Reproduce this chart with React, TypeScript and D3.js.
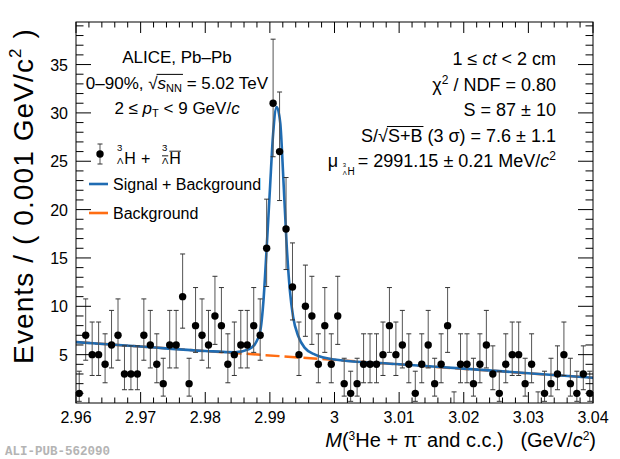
import React, { useLayoutEffect, useRef, useState } from "react";
import * as d3 from "d3";

// invariant-mass histogram, 0.001 GeV/c^2 bins from 2.96 to 3.04
const binLow = 2.96;
const binWidth = 0.001;
const counts = [
  1, 7, 5, 5, 4, 6, 7, 3, 3, 3,
  7, 6, 4, 2, 6, 6, 11, 2, 8, 7,
  6, 9, 8, 4, 5, 6, 6, 8, 7, 16,
  31, 26, 18, 12, 5, 10, 9, 4, 8, 4,
  9, 2, 1, 2, 4, 4, 4, 5, 8, 5,
  6, 4, 1, 4, 6, 2, 4, 8, 0, 4,
  4, 2, 4, 6, 3, 1, 4, 5, 5, 2,
  4, 0, 1, 2, 3, 5, 2, 1, 3, 1,
];

// signal + background fit
const fitMass = [
  2.96, 2.97, 2.98, 2.9846, 2.9867, 2.9877, 2.9885, 2.989, 2.9895, 2.99,
  2.9905, 2.99105, 2.9916, 2.9921, 2.9926, 2.9931, 2.9936, 2.9944, 2.9954,
  2.997, 3.0, 3.01, 3.02, 3.03, 3.04,
];
const fitTotal = [
  6.3, 5.84, 5.38, 5.25, 5.55, 6.1, 7.4, 10.5, 16.0, 22.0,
  27.8, 30.6, 29.0, 23.0, 16.3, 11.6, 8.9, 6.9, 5.7,
  5.0, 4.5, 4.01, 3.55, 3.08, 2.61,
];

// background only
const bkgMass = [2.96, 3.04];
const bkgValue = [6.3, 2.61];

const xTickValues = [2.96, 2.97, 2.98, 2.99, 3.0, 3.01, 3.02, 3.03, 3.04];
const xTickLabels = ["2.96", "2.97", "2.98", "2.99", "3", "3.01", "3.02", "3.03", "3.04"];
const yTickValues = [5, 10, 15, 20, 25, 30, 35];
const yTickLabels = ["5", "10", "15", "20", "25", "30", "35"];

const BLUE = "#1f6cb3";
const ORANGE = "#ff6d12";
const FONT = "'Liberation Sans', Arial, Helvetica, sans-serif";

// 68% Poisson interval (Wilson-Hilferty)
function poisson(n: number): [number, number] {
  if (n === 0) return [0, 1.1478];
  const lo = n * Math.pow(1 - 1 / (9 * n) - 1 / (3 * Math.sqrt(n)), 3);
  const m = n + 1;
  const hi = m * Math.pow(1 - 1 / (9 * m) + 1 / (3 * Math.sqrt(m)), 3);
  return [lo, hi];
}

// hypertriton symbol: 3 on top, Lambda below, then H
const Hyp = ({ x, y, fs, anti }: { x: number; y: number; fs: number; anti?: boolean }) => {
  const s = fs * 0.6;
  const hx = x + fs * 0.46;
  const hw = fs * 0.72;
  return (
    <g>
      <text x={x} y={y - fs * 0.8} fontSize={s}>3</text>
      <text x={x} y={y} fontSize={s}>Λ</text>
      <text x={hx} y={y} fontSize={fs}>H</text>
      {anti && (
        <>
          <line x1={x} x2={x + s * 0.65} y1={y - s * 0.85} y2={y - s * 0.85} stroke="#000" strokeWidth={0.9} />
          <line x1={hx} x2={hx + hw} y1={y - fs * 0.8} y2={y - fs * 0.8} stroke="#000" strokeWidth={0.9} />
        </>
      )}
    </g>
  );
};

export default function App() {
  const M = { left: 76, right: 593, top: 22, bottom: 403 };
  const x = d3.scaleLinear().domain([2.96, 3.04]).range([M.left, M.right]);
  const y = d3.scaleLinear().domain([0, 39.4]).range([M.bottom, M.top]);

  const xMinor = d3.range(0, 41).map((i) => 2.96 + i * 0.002);
  const yMinor = d3.range(1, 40);

  const fitPath = d3
    .line<number>()
    .x((_, i) => x(fitMass[i]))
    .y((d) => y(d))
    .curve(d3.curveMonotoneX)(fitTotal)!;
  const bkgPath = d3
    .line<number>()
    .x((_, i) => x(bkgMass[i]))
    .y((d) => y(d))(bkgValue)!;

  const sqrtA = useRef<SVGTextElement>(null);
  const sqrtB = useRef<SVGTextElement>(null);
  const muRef = useRef<SVGTextElement>(null);
  const [bars, setBars] = useState<{ x1: number; x2: number; y: number }[]>([]);
  const [muStart, setMuStart] = useState(360);

  const rfs = 18; // right-hand text size

  useLayoutEffect(() => {
    const over = (el: SVGTextElement | null, root: number, last: number, base: number, fs: number) => {
      if (!el) return null;
      const r = el.getEndPositionOfChar(root);
      const e = el.getEndPositionOfChar(last);
      return { x1: r.x - 1, x2: e.x + 1, y: base - fs * 0.86 };
    };
    const out = [over(sqrtA.current, 7, 10, 89, 17), over(sqrtB.current, 2, 5, 142, rfs)].filter(Boolean) as any[];
    setBars(out);
    if (muRef.current) setMuStart(muRef.current.getBBox().x);
  }, []);

  return (
    <svg
      width={620}
      height={459}
      style={{ position: "absolute", left: 0, top: 0, background: "#fff" }}
      fontFamily={FONT}
    >
      <defs>
        <clipPath id="plotArea">
          <rect x={M.left} y={M.top} width={M.right - M.left} height={M.bottom - M.top} />
        </clipPath>
      </defs>

      {/* curves */}
      <g clipPath="url(#plotArea)">
        <path d={bkgPath} fill="none" stroke={ORANGE} strokeWidth={2.5} strokeDasharray="14 5" />
        <path d={fitPath} fill="none" stroke={BLUE} strokeWidth={2.6} />
      </g>

      {/* data points */}
      <g clipPath="url(#plotArea)">
        {counts.map((n, i) => {
          const cx = x(binLow + (i + 0.5) * binWidth);
          const [lo, hi] = poisson(n);
          return (
            <g key={i}>
              <line x1={cx} x2={cx} y1={y(lo)} y2={y(hi)} stroke="#555" strokeWidth={1} />
              <line x1={cx - 2.5} x2={cx + 2.5} y1={y(hi)} y2={y(hi)} stroke="#333" strokeWidth={1} />
              {n > 0 && <line x1={cx - 2.5} x2={cx + 2.5} y1={y(lo)} y2={y(lo)} stroke="#333" strokeWidth={1} />}
              {n > 0 && <circle cx={cx} cy={y(n)} r={3.7} fill="#000" />}
            </g>
          );
        })}
      </g>

      {/* frame and ticks */}
      <rect x={M.left} y={M.top} width={M.right - M.left} height={M.bottom - M.top} fill="none" stroke="#000" strokeWidth={1} />
      <g stroke="#000" strokeWidth={1}>
        {xMinor.map((v, i) => {
          const len = i % 5 === 0 ? 11 : 5.5;
          return (
            <g key={"xt" + i}>
              <line x1={x(v)} x2={x(v)} y1={M.bottom} y2={M.bottom - len} />
              <line x1={x(v)} x2={x(v)} y1={M.top} y2={M.top + len} />
            </g>
          );
        })}
        {yMinor.map((v) => {
          const len = v % 5 === 0 ? 15 : 7.5;
          return (
            <g key={"yt" + v}>
              <line x1={M.left} x2={M.left + len} y1={y(v)} y2={y(v)} />
              <line x1={M.right} x2={M.right - len} y1={y(v)} y2={y(v)} />
            </g>
          );
        })}
      </g>
      <g fontSize={16} fill="#000">
        {xTickValues.map((v, i) => (
          <text key={"xl" + i} x={x(v)} y={M.bottom + 20} textAnchor="middle">
            {xTickLabels[i]}
          </text>
        ))}
        {yTickValues.map((v, i) => (
          <text key={"yl" + i} x={M.left - 8} y={y(v) + 6} textAnchor="end">
            {yTickLabels[i]}
          </text>
        ))}
      </g>

      {/* axis titles */}
      <text x={596} y={447} textAnchor="end" fontSize={20} style={{ whiteSpace: "pre" }}>
        <tspan fontStyle="italic">M</tspan>(
        <tspan fontSize={12} baselineShift="60%">3</tspan>He + π
        <tspan fontSize={12} baselineShift="60%">-</tspan> and c.c.)   (GeV/
        <tspan fontStyle="italic">c</tspan>
        <tspan fontSize={12} baselineShift="60%">2</tspan>)
      </text>
      <text
        transform="translate(33,196) rotate(-90)"
        textAnchor="middle"
        fontSize={28}
        letterSpacing={1.1}
        style={{ whiteSpace: "pre" }}
      >
        Events / ( 0.001 GeV/c<tspan fontSize={17} baselineShift="70%">2</tspan> )
      </text>

      {/* left text block */}
      <g fontSize={17} textAnchor="middle">
        <text x={177} y={63}>ALICE, Pb–Pb</text>
        <text ref={sqrtA} x={177} y={89} style={{ whiteSpace: "pre" }}>
          0–90%, √<tspan fontStyle="italic">s</tspan>
          <tspan fontSize={11} baselineShift="-30%">NN</tspan> = 5.02 TeV
        </text>
        <text x={177} y={114} style={{ whiteSpace: "pre" }}>
          2 ≤ <tspan fontStyle="italic">p</tspan>
          <tspan fontSize={11} baselineShift="-30%">T</tspan> {"< 9 GeV/"}
          <tspan fontStyle="italic">c</tspan>
        </text>
      </g>
      {bars.map((b, i) => (
        <line key={"ov" + i} x1={b.x1} x2={b.x2} y1={b.y} y2={b.y} stroke="#000" strokeWidth={1} />
      ))}

      {/* legend */}
      <g>
        <line x1={100} x2={100} y1={144} y2={164} stroke="#555" strokeWidth={1} />
        <line x1={97.5} x2={102.5} y1={144} y2={144} stroke="#333" strokeWidth={1} />
        <line x1={97.5} x2={102.5} y1={164} y2={164} stroke="#333" strokeWidth={1} />
        <circle cx={100} cy={154} r={3.7} fill="#000" />
        <Hyp x={117} y={164} fs={16} />
        <text x={141} y={164} fontSize={16}>+</text>
        <Hyp x={162} y={164} fs={16} anti />
        <line x1={89} x2={108} y1={184} y2={184} stroke={BLUE} strokeWidth={2.6} />
        <text x={113} y={190} fontSize={16}>Signal + Background</text>
        <line x1={89} x2={108} y1={213} y2={213} stroke={ORANGE} strokeWidth={2.6} />
        <text x={113} y={219} fontSize={16}>Background</text>
      </g>

      {/* right text block */}
      <g fontSize={rfs} textAnchor="end" style={{ whiteSpace: "pre" }}>
        <text x={556} y={65}>
          1 ≤ <tspan fontStyle="italic">ct</tspan> {"< 2 cm"}
        </text>
        <text x={556} y={91}>
          χ<tspan fontSize={12} baselineShift="60%">2</tspan> / NDF = 0.80
        </text>
        <text x={556} y={116}>S = 87 ± 10</text>
        <text ref={sqrtB} x={556} y={142}>S/√S+B (3 σ) = 7.6 ± 1.1</text>
        <text ref={muRef} x={556} y={167}>
          = 2991.15 ± 0.21 MeV/<tspan fontStyle="italic">c</tspan>
          <tspan fontSize={12} baselineShift="60%">2</tspan>
        </text>
      </g>
      <text x={muStart - 30} y={167} fontSize={rfs}>μ</text>
      <Hyp x={muStart - 15} y={175} fs={10} />

      {/* watermark */}
      <text x={5} y={455} fontSize={12.5} fontWeight="bold" fill="#b4b4b4" fontFamily="'Liberation Mono', 'DejaVu Sans Mono', monospace">
        ALI-PUB-562090
      </text>
    </svg>
  );
}
